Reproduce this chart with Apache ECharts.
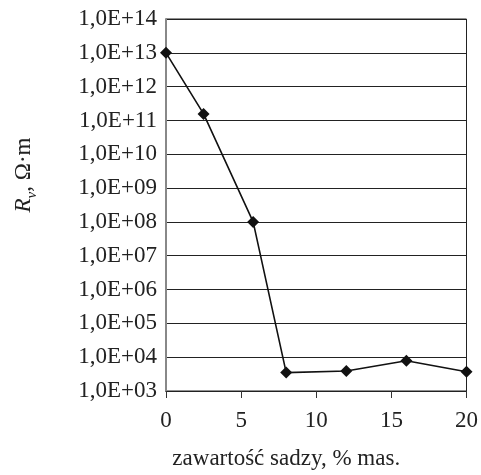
<!DOCTYPE html>
<html><head><meta charset="utf-8">
<script src="https://cdn.jsdelivr.net/npm/echarts@6/dist/echarts.min.js"></script>
<style>html,body{margin:0;padding:0;background:#fff}#c{width:481px;height:475px}</style>
</head><body><div id="c"></div>
<script>
const carbonContent = [0, 2.5, 5.8, 8, 12, 16, 20];
const resistivity = [1e13, 1.56e11, 1e8, 3.5e3, 3.9e3, 7.8e3, 3.7e3];
const xTicks = [0, 5, 10, 15, 20];
const yMinExp = 3, yMaxExp = 14;
const xName = 'zawartość sadzy, % mas.';

const font = 'Liberation Serif';
const chart = echarts.init(document.getElementById('c'), null, {renderer: 'canvas'});
chart.setOption({
  animation: false,
  backgroundColor: '#fff',
  grid: {left: 166, top: 19, right: 12, bottom: 78, show: true, borderColor: '#222', borderWidth: 1},
  xAxis: {
    type: 'value', min: xTicks[0], max: xTicks[xTicks.length - 1], interval: 5,
    name: xName, nameLocation: 'middle', nameGap: 56,
    nameTextStyle: {fontFamily: font, fontSize: 23, color: '#222', padding: [0, 60, 0, 0]},
    axisLine: {show: true, lineStyle: {color: '#222', width: 1}},
    axisTick: {show: true, length: 7, inside: false, lineStyle: {color: '#333', width: 1}},
    axisLabel: {fontFamily: font, fontSize: 23, color: '#222', margin: 18},
    splitLine: {show: false}
  },
  yAxis: {
    type: 'log', logBase: 10, min: Math.pow(10, yMinExp), max: Math.pow(10, yMaxExp), interval: 1,
    name: '{i|R}{s|v}{n|, Ω·m}', nameLocation: 'middle', nameGap: 131, nameRotate: 90,
    nameTextStyle: {
      fontFamily: font, fontSize: 23, color: '#222', padding: [0, 0, 0, 60],
      rich: {
        i: {fontFamily: font, fontSize: 23, fontStyle: 'italic', color: '#222', verticalAlign: 'bottom', lineHeight: 26},
        s: {fontFamily: font, fontSize: 15, fontStyle: 'italic', color: '#222', verticalAlign: 'bottom', lineHeight: 26, padding: [0, 0, -5, 0]},
        n: {fontFamily: font, fontSize: 23, color: '#222', verticalAlign: 'bottom', lineHeight: 26}
      }
    },
    axisLine: {show: true, lineStyle: {color: '#888', width: 2}},
    axisTick: {show: false},
    axisLabel: {
      fontFamily: font, fontSize: 23, color: '#222', margin: 9,
      formatter: function (v) {
        const e = Math.round(Math.log10(v));
        return '1,0E+' + (e < 10 ? '0' + e : e);
      }
    },
    splitLine: {show: true, lineStyle: {color: '#222', width: 1}}
  },
  series: [{
    type: 'line',
    data: carbonContent.map((x, i) => [x, resistivity[i]]),
    symbol: 'diamond', symbolSize: 12,
    itemStyle: {color: '#111'},
    lineStyle: {color: '#111', width: 1.6}
  }]
});
</script></body></html>
